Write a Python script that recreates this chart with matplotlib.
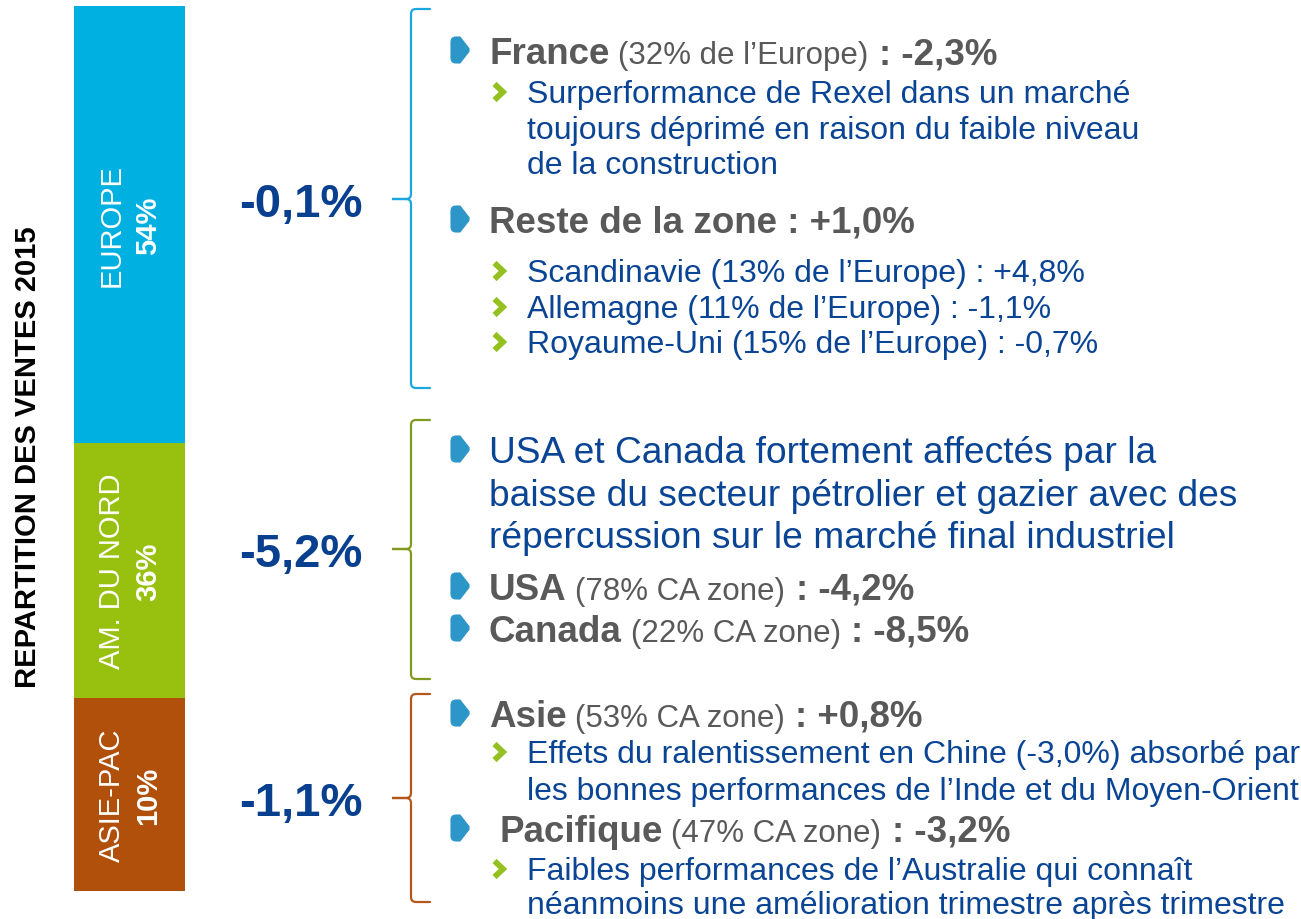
import numpy as np
import matplotlib
matplotlib.use('Agg')
import matplotlib.pyplot as plt
from matplotlib.path import Path
import matplotlib.patches as mpatch

plt.rcParams['font.family'] = ['Liberation Sans', 'DejaVu Sans']

# bar on the left
regions = ['EUROPE', 'AM. DU NORD', 'ASIE-PAC']
shares = [54, 36, 10]
bar_heights = [437, 255, 193]       # segment heights as drawn in the picture
bar_colors = ['#00b0e0', '#98c00f', '#b1500b']
brace_colors = ['#1aa7df', '#7f9a1e', '#b5561b']
growth = ['-0,1%', '-5,2%', '-1,1%']

europe_lines = [
    ('head', [('France', 'b'), (' (32% de l’Europe)', 'n'), (' : -2,3%', 'b')]),
    ('sub', 'Surperformance de Rexel dans un marché'),
    ('cont', 'toujours déprimé en raison du faible niveau'),
    ('cont', 'de la construction'),
    ('head', [('Reste de la zone : +1,0%', 'b')]),
    ('sub', 'Scandinavie (13% de l’Europe) : +4,8%'),
    ('sub', 'Allemagne (11% de l’Europe) : -1,1%'),
    ('sub', 'Royaume-Uni (15% de l’Europe) : -0,7%'),
]
namerica_lines = [
    ('para', 'USA et Canada fortement affectés par la'),
    ('pcont', 'baisse du secteur pétrolier et gazier avec des'),
    ('pcont', 'répercussion sur le marché final industriel'),
    ('head', [('USA', 'b'), (' (78% CA zone)', 'n'), (' : -4,2%', 'b')]),
    ('head', [('Canada', 'b'), (' (22% CA zone)', 'n'), (' : -8,5%', 'b')]),
]
asiapac_lines = [
    ('head', [('Asie', 'b'), (' (53% CA zone)', 'n'), (' : +0,8%', 'b')]),
    ('sub', 'Effets du ralentissement en Chine (-3,0%) absorbé par'),
    ('cont', 'les bonnes performances de l’Inde et du Moyen-Orient'),
    ('head', [(' Pacifique', 'b'), (' (47% CA zone)', 'n'), (' : -3,2%', 'b')]),
    ('sub', 'Faibles performances de l’Australie qui connaît'),
    ('cont', 'néanmoins une amélioration trimestre après trimestre'),
]
blocks = [europe_lines, namerica_lines, asiapac_lines]

# layout (pixels)
baselines = [
    [64, 103, 138.5, 174, 233, 282, 318, 353],
    [463, 506, 548, 600, 642],
    [727, 763, 800, 842, 880, 914],
]
braces = [(10, 200, 389), (421, 550, 680), (695, 799, 903)]

GRAY = '#595959'
BLUE = '#0a4494'
NUMBLUE = '#08408f'
styles = {
    'b': (26.5, 'bold', GRAY),
    'n': (22.5, 'normal', GRAY),
    'sub': (23, 'normal', BLUE),
    'para': (26.7, 'normal', BLUE),
}

fig = plt.figure(figsize=(13.01, 9.2), dpi=100)
ax = fig.add_axes([0, 0, 1, 1])
ax.set_xlim(0, 1301)
ax.set_ylim(920, 0)
ax.axis('off')
renderer = fig.canvas.get_renderer()

# stacked bar
bar_x, bar_w, bar_top = 129.5, 111, 7
bottoms = bar_top + np.concatenate([[0], np.cumsum(bar_heights)[:-1]])
ax.bar(bar_x, bar_heights, bottom=bottoms, width=bar_w, color=bar_colors)
for name, share, b, h in zip(regions, shares, bottoms, bar_heights):
    ym = b + h / 2
    ax.text(bar_x - 18, ym, name, rotation=90, ha='center', va='center',
            fontsize=21, color='white')
    ax.text(bar_x + 19, ym, '%d%%' % share, rotation=90, ha='center', va='center',
            fontsize=21, color='white', fontweight='bold')

ax.text(28, 457, 'REPARTITION DES VENTES 2015', rotation=90, ha='center',
        va='center', fontsize=21, fontweight='bold', color='black')


def draw_brace(y0, ym, y1, color, xt=392, xl=411, xe=430, r=5):
    verts = [(xe, y0), (xl + r, y0), (xl, y0), (xl, y0 + r),
             (xl, ym - r), (xl, ym), (xl - r, ym), (xt, ym),
             (xl - r, ym), (xl, ym), (xl, ym + r),
             (xl, y1 - r), (xl, y1), (xl + r, y1), (xe, y1)]
    codes = [Path.MOVETO, Path.LINETO, Path.CURVE3, Path.CURVE3,
             Path.LINETO, Path.CURVE3, Path.CURVE3, Path.LINETO,
             Path.LINETO, Path.CURVE3, Path.CURVE3,
             Path.LINETO, Path.CURVE3, Path.CURVE3, Path.LINETO]
    ax.add_patch(mpatch.PathPatch(Path(verts, codes), fill=False,
                                  edgecolor=color, lw=1.6, capstyle='round'))


def draw_bullet(y):
    # rounded blue arrow head, sitting on the text baseline
    x0, top, bot = 451, y - 26, y
    mid = (top + bot) / 2
    verts = [(456, top), (460, top), (469, mid - 1.5), (469, mid + 1.5),
             (460, bot), (456, bot),
             (x0, bot), (x0, bot - 5), (x0, top + 5), (x0, top), (456, top)]
    codes = [Path.MOVETO, Path.LINETO, Path.LINETO, Path.LINETO,
             Path.LINETO, Path.LINETO,
             Path.CURVE3, Path.CURVE3, Path.LINETO, Path.CURVE3, Path.CURVE3]
    ax.add_patch(mpatch.PathPatch(Path(verts, codes), facecolor='#2c96c8',
                                  edgecolor='#2c96c8', lw=0.8, joinstyle='round'))


def draw_chevron(y):
    ax.plot([494.5, 503, 494.5], [y - 18, y - 10, y - 2], color='#94c11f',
            lw=4.2, solid_joinstyle='miter', solid_capstyle='butt')


def draw_runs(x, y, runs):
    for txt, st in runs:
        size, weight, color = styles[st]
        n = len(txt) - len(txt.lstrip(' '))
        x += n * 0.278 * size / 72.0 * fig.dpi
        t = ax.text(x, y, txt.lstrip(' '), fontsize=size, fontweight=weight,
                    color=color, ha='left', va='baseline')
        x += t.get_window_extent(renderer=renderer).width


for i, (lines, ys) in enumerate(zip(blocks, baselines)):
    y0, ym, y1 = braces[i]
    draw_brace(y0, ym, y1, brace_colors[i])
    ax.text(239, ym + 17, growth[i], fontsize=34, fontweight='bold',
            color=NUMBLUE, ha='left', va='baseline')
    for (kind, content), y in zip(lines, ys):
        if kind == 'head':
            draw_bullet(y)
            draw_runs(489, y, content)
        elif kind == 'para':
            draw_bullet(y)
            draw_runs(489, y, [(content, 'para')])
        elif kind == 'pcont':
            draw_runs(489, y, [(content, 'para')])
        elif kind == 'sub':
            draw_chevron(y)
            draw_runs(527, y, [(content, 'sub')])
        else:
            draw_runs(527, y, [(content, 'sub')])

fig.savefig('out.png', dpi=100, facecolor='white')
